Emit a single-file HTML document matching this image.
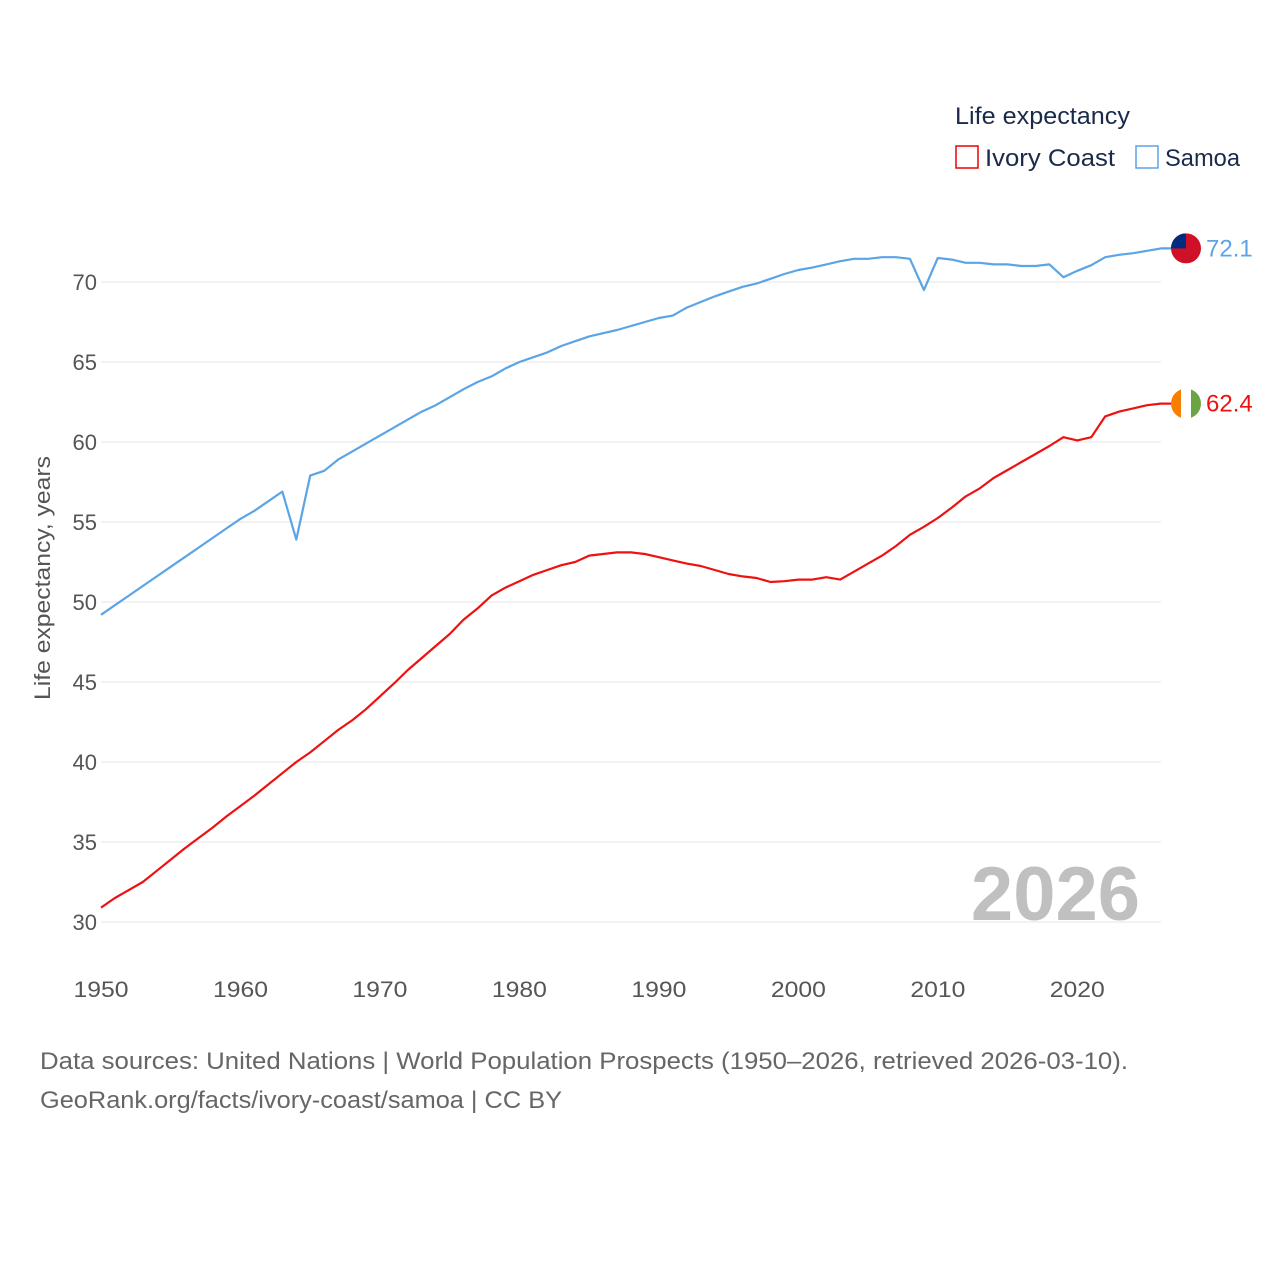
<!DOCTYPE html>
<html><head><meta charset="utf-8"><style>
body{margin:0;background:#fff;font-family:"Liberation Sans",sans-serif}
svg text{font-family:"Liberation Sans",sans-serif}
</style></head><body>
<svg width="1280" height="1280" viewBox="0 0 1280 1280" xmlns="http://www.w3.org/2000/svg">
<g id="grid"></g>
<g id="yt"></g>
<g id="xt"></g>
<text x="50" y="578" transform="rotate(-90 50 578)" text-anchor="middle" font-size="22" fill="#555" textLength="244" lengthAdjust="spacingAndGlyphs">Life expectancy, years</text>
<text x="1140" y="920" text-anchor="end" font-size="76" font-weight="bold" fill="#c0c0c0">2026</text>
<text x="955" y="124" font-size="24" fill="#1a2a4a" textLength="175" lengthAdjust="spacingAndGlyphs">Life expectancy</text>
<g><rect x="956" y="146" width="22" height="22" fill="none" stroke="#e00" stroke-width="1.5"/><text x="985" y="166" font-size="24" fill="#1a2a4a" textLength="130" lengthAdjust="spacingAndGlyphs">Ivory Coast</text></g>
<g><rect x="1136" y="146" width="22" height="22" fill="none" stroke="#5ba4e6" stroke-width="1.5"/><text x="1165" y="166" font-size="24" fill="#1a2a4a" textLength="75" lengthAdjust="spacingAndGlyphs">Samoa</text></g>
<g id="series"></g>
<text x="40" y="1069" font-size="24" fill="#666" textLength="1088" lengthAdjust="spacingAndGlyphs">Data sources: United Nations | World Population Prospects (1950–2026, retrieved 2026-03-10).</text>
<text x="40" y="1108" font-size="24" fill="#666" textLength="522" lengthAdjust="spacingAndGlyphs">GeoRank.org/facts/ivory-coast/samoa | CC BY</text>
</svg>
<script>
const years=[];for(let y=1950;y<=2026;y++)years.push(y);
const ivoryCoast=[30.9,31.5,32.0,32.5,33.2,33.9,34.6,35.25,35.9,36.6,37.25,37.9,38.6,39.3,40,40.6,41.3,42,42.6,43.3,44.1,44.9,45.75,46.5,47.25,48,48.9,49.6,50.4,50.9,51.3,51.7,52,52.3,52.5,52.9,53,53.1,53.1,53,52.8,52.6,52.4,52.25,52,51.75,51.6,51.5,51.25,51.3,51.4,51.4,51.55,51.4,51.9,52.4,52.9,53.5,54.2,54.7,55.25,55.9,56.6,57.1,57.75,58.25,58.75,59.25,59.75,60.3,60.1,60.3,61.6,61.9,62.1,62.3,62.4];
const samoa=[49.2,49.8,50.4,51.0,51.6,52.2,52.8,53.4,54.0,54.6,55.2,55.7,56.3,56.9,53.9,57.9,58.2,58.9,59.4,59.9,60.4,60.9,61.4,61.9,62.3,62.8,63.3,63.75,64.1,64.6,65,65.3,65.6,66,66.3,66.6,66.8,67,67.25,67.5,67.75,67.9,68.4,68.75,69.1,69.4,69.7,69.9,70.2,70.5,70.75,70.9,71.1,71.3,71.45,71.45,71.55,71.55,71.45,69.5,71.5,71.4,71.2,71.2,71.1,71.1,71,71,71.1,70.3,70.7,71.05,71.55,71.7,71.8,71.95,72.1];
const yTicks=[30,35,40,45,50,55,60,65,70];
const xTicks=[1950,1960,1970,1980,1990,2000,2010,2020];
const X=y=>101+(y-1950)*(1060/76);
const Y=v=>922-(v-30)*16;
const NS="http://www.w3.org/2000/svg";
function mk(t,a,p){const e=document.createElementNS(NS,t);for(const k in a)e.setAttribute(k,a[k]);p.appendChild(e);return e;}
const grid=document.getElementById('grid'),yt=document.getElementById('yt'),xt=document.getElementById('xt'),ser=document.getElementById('series');
yTicks.forEach(v=>{const l=mk('line',{x1:101,x2:1161,y1:Y(v),y2:Y(v),stroke:'#e6e6e6','stroke-width':1},grid);


const t=mk('text',{x:97,y:Y(v)+8,'text-anchor':'end','font-size':22,fill:'#555'},yt);t.textContent=v;

});
xTicks.forEach(v=>{const t=mk('text',{x:X(v),y:997,'text-anchor':'middle','font-size':22,fill:'#555',textLength:55,lengthAdjust:'spacingAndGlyphs'},xt);t.textContent=v;

});
function line(vals,color,name){const d=vals.map((v,i)=>(i?'L':'M')+X(years[i]).toFixed(1)+' '+Y(v).toFixed(1)).join(' ')+' H1172';
const p=mk('path',{d:d,fill:'none',stroke:color,'stroke-width':2.2,'stroke-linejoin':'round'},ser);


const last=vals[vals.length-1];
const t=mk('text',{x:1206,y:Y(last)+8,'font-size':24,fill:color},ser);t.textContent=last.toFixed(1);


return Y(last);}
const yi=line(ivoryCoast,'#ee1111','ivory-coast');
const ys=line(samoa,'#5ba4e6','samoa');
const fi=mk('g',{},ser);


mk('clipPath',{id:'ci'},fi);mk('circle',{cx:1186,cy:yi,r:15},document.getElementById('ci'));
const gi=mk('g',{'clip-path':'url(#ci)'},fi);
mk('rect',{x:1171,y:yi-15,width:10,height:30,fill:'#f77f00'},gi);
mk('rect',{x:1181,y:yi-15,width:10,height:30,fill:'#fff'},gi);
mk('rect',{x:1191,y:yi-15,width:10,height:30,fill:'#6aa444'},gi);
const fs=mk('g',{},ser);


mk('clipPath',{id:'cs'},fs);mk('circle',{cx:1186,cy:ys,r:15},document.getElementById('cs'));
const gs=mk('g',{'clip-path':'url(#cs)'},fs);
mk('rect',{x:1171,y:ys-15,width:30,height:30,fill:'#ce1126'},gs);
mk('rect',{x:1171,y:ys-15,width:15,height:15,fill:'#002b7f'},gs);
</script>
</body></html>
